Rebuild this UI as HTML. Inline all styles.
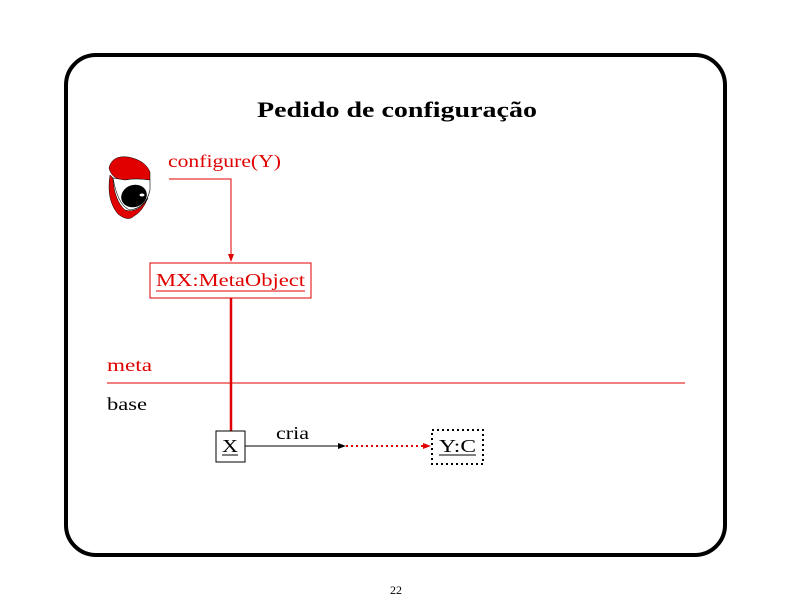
<!DOCTYPE html>
<html><head><meta charset="utf-8"><style>
html,body{margin:0;padding:0;background:#fff;}
body{width:792px;height:612px;position:relative;overflow:hidden;font-family:"Liberation Serif",serif;}
svg{position:absolute;left:0;top:0;}
</style></head><body>
<svg width="792" height="612" viewBox="0 0 792 612">
<rect x="66" y="55" width="659" height="500" rx="30" ry="30" fill="none" stroke="#000" stroke-width="4"/>
<text x="257" y="117" textLength="280" lengthAdjust="spacingAndGlyphs" font-family="Liberation Serif" font-weight="bold" font-size="22">Pedido de configuração</text>
<!-- face -->
<path d="M109 168 Q112 155 128 157 Q145 160 150 172 L150 180 Q135 178 125 180 Q112 180 109 168Z" fill="#e00000" stroke="#000" stroke-width="0.5"/>
<path d="M110 175 Q106 200 118 214 Q128 222 134 216 Q142 212 148 198 Q138 214 125 210 Q114 200 113 178Z" fill="#e00000" stroke="#000" stroke-width="0.5"/>
<path d="M113 178 Q118 206 130 210 Q146 208 150 190 L150 180 Q135 178 125 180Z" fill="#fff" stroke="#000" stroke-width="0.6"/>
<ellipse cx="134" cy="196" rx="13" ry="11" transform="rotate(-20 134 196)" fill="#000"/>
<ellipse cx="142" cy="195" rx="2.5" ry="1.5" fill="#fff"/>
<text x="168" y="167" textLength="113" lengthAdjust="spacingAndGlyphs" font-size="18" fill="#e00000">configure(Y)</text>
<polyline points="169,179 231,179 231,256" fill="none" stroke="#e00000" stroke-width="1"/>
<polygon points="228,254 234,254 231,262" fill="#e00000"/>
<rect x="150" y="263" width="161" height="35" fill="none" stroke="#e00000" stroke-width="1"/>
<text x="156" y="286" textLength="149" lengthAdjust="spacingAndGlyphs" font-size="18" fill="#e00000">MX:MetaObject</text>
<line x1="156" y1="291" x2="305" y2="291" stroke="#e00000" stroke-width="1"/>
<line x1="231" y1="298" x2="231" y2="431" stroke="#e00000" stroke-width="2.5"/>
<text x="107" y="371" textLength="45" lengthAdjust="spacingAndGlyphs" font-size="18" fill="#e00000">meta</text>
<line x1="107" y1="383" x2="685" y2="383" stroke="#e00000" stroke-width="1"/>
<text x="107" y="410" textLength="40" lengthAdjust="spacingAndGlyphs" font-size="18">base</text>
<rect x="216" y="431" width="29" height="31" fill="none" stroke="#000" stroke-width="1"/>
<text x="222" y="452" textLength="16" lengthAdjust="spacingAndGlyphs" font-size="18">X</text>
<line x1="222" y1="455" x2="238" y2="455" stroke="#000" stroke-width="1"/>
<text x="276" y="439" textLength="33" lengthAdjust="spacingAndGlyphs" font-size="18">cria</text>
<line x1="245" y1="446" x2="340" y2="446" stroke="#000" stroke-width="1"/>
<polygon points="338,443 346,446 338,449" fill="#000"/>
<line x1="346" y1="446" x2="425" y2="446" stroke="#e00000" stroke-width="2" stroke-dasharray="2,3"/>
<polygon points="423,443 431,446 423,449" fill="#e00000"/>
<rect x="432" y="430" width="51" height="34" fill="none" stroke="#000" stroke-width="2" stroke-dasharray="2,3"/>
<text x="439" y="452" textLength="37" lengthAdjust="spacingAndGlyphs" font-size="18">Y:C</text>
<line x1="439" y1="455" x2="476" y2="455" stroke="#000" stroke-width="1"/>
<text x="396" y="594" text-anchor="middle" font-size="12">22</text>
</svg>
</body></html>
